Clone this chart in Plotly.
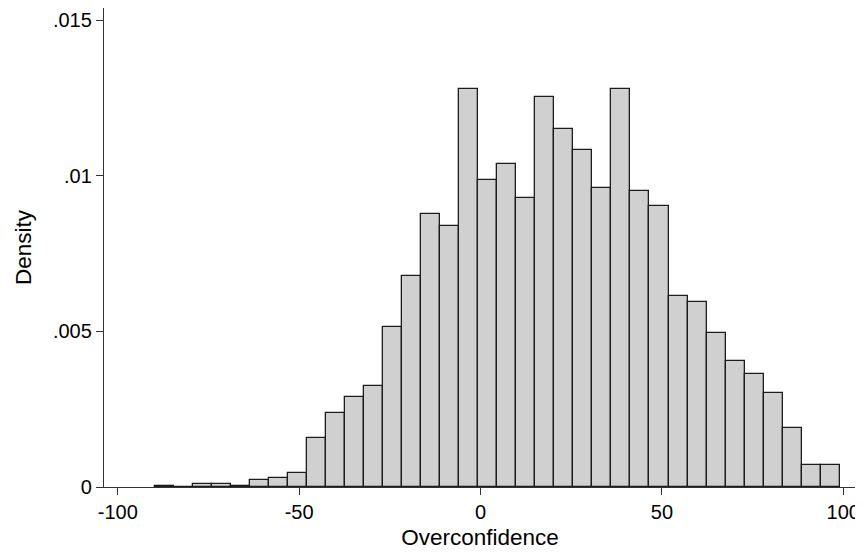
import plotly.graph_objects as go

# Histogram bins (Overconfidence) and densities
bin_start = -89.8
bin_width = 5.245
density = [0.00002, 0.0, 0.00010, 0.00010, 0.00003, 0.00023, 0.00028, 0.00046,
           0.00157, 0.00239, 0.00288, 0.00325, 0.00514, 0.00677, 0.00879, 0.00840,
           0.01281, 0.00988, 0.01037, 0.00930, 0.01254, 0.01151, 0.01083, 0.00961,
           0.01281, 0.00952, 0.00902, 0.00613, 0.00595, 0.00496, 0.00405, 0.00364,
           0.00302, 0.00189, 0.00072, 0.00072]
x_ticks = [-100, -50, 0, 50, 100]
x_ticklabels = ["-100", "-50", "0", "50", "100"]
y_ticks = [0, 0.005, 0.01, 0.015]
y_ticklabels = ["0", ".005", ".01", ".015"]

centers = [bin_start + bin_width * (i + 0.5) for i in range(len(density))]

fig = go.Figure(go.Bar(
    x=centers, y=density, width=bin_width,
    marker=dict(color="#d0d0d0", line=dict(color="#1c1c1c", width=1.3)),
))

tick_font = dict(family="Liberation Sans, Arial, Helvetica, sans-serif", size=20, color="#000")
title_font = dict(family="Liberation Sans, Arial, Helvetica, sans-serif", size=22.5, color="#000")
axis_common = dict(showline=True, linecolor="#333", linewidth=1.3, mirror=True,
                   ticks="outside", ticklen=7, tickwidth=1.2, tickcolor="#333",
                   showgrid=False, zeroline=False, tickfont=tick_font)

# page body has an 8px margin, so the figure is offset by 8px right and down
fig.update_layout(
    width=855, height=546,
    margin=dict(l=96, r=7, t=0, b=67),
    paper_bgcolor="white", plot_bgcolor="white",
    showlegend=False, bargap=0,
    xaxis=dict(range=[-103.8, 103.5], tickvals=x_ticks, ticktext=x_ticklabels,
               title=dict(text="Overconfidence", font=title_font, standoff=7), **axis_common),
    yaxis=dict(range=[0, 0.0154], tickvals=y_ticks, ticktext=y_ticklabels,
               title=dict(text="Density", font=title_font, standoff=15), **axis_common),
)

fig.write_html("out.html")
